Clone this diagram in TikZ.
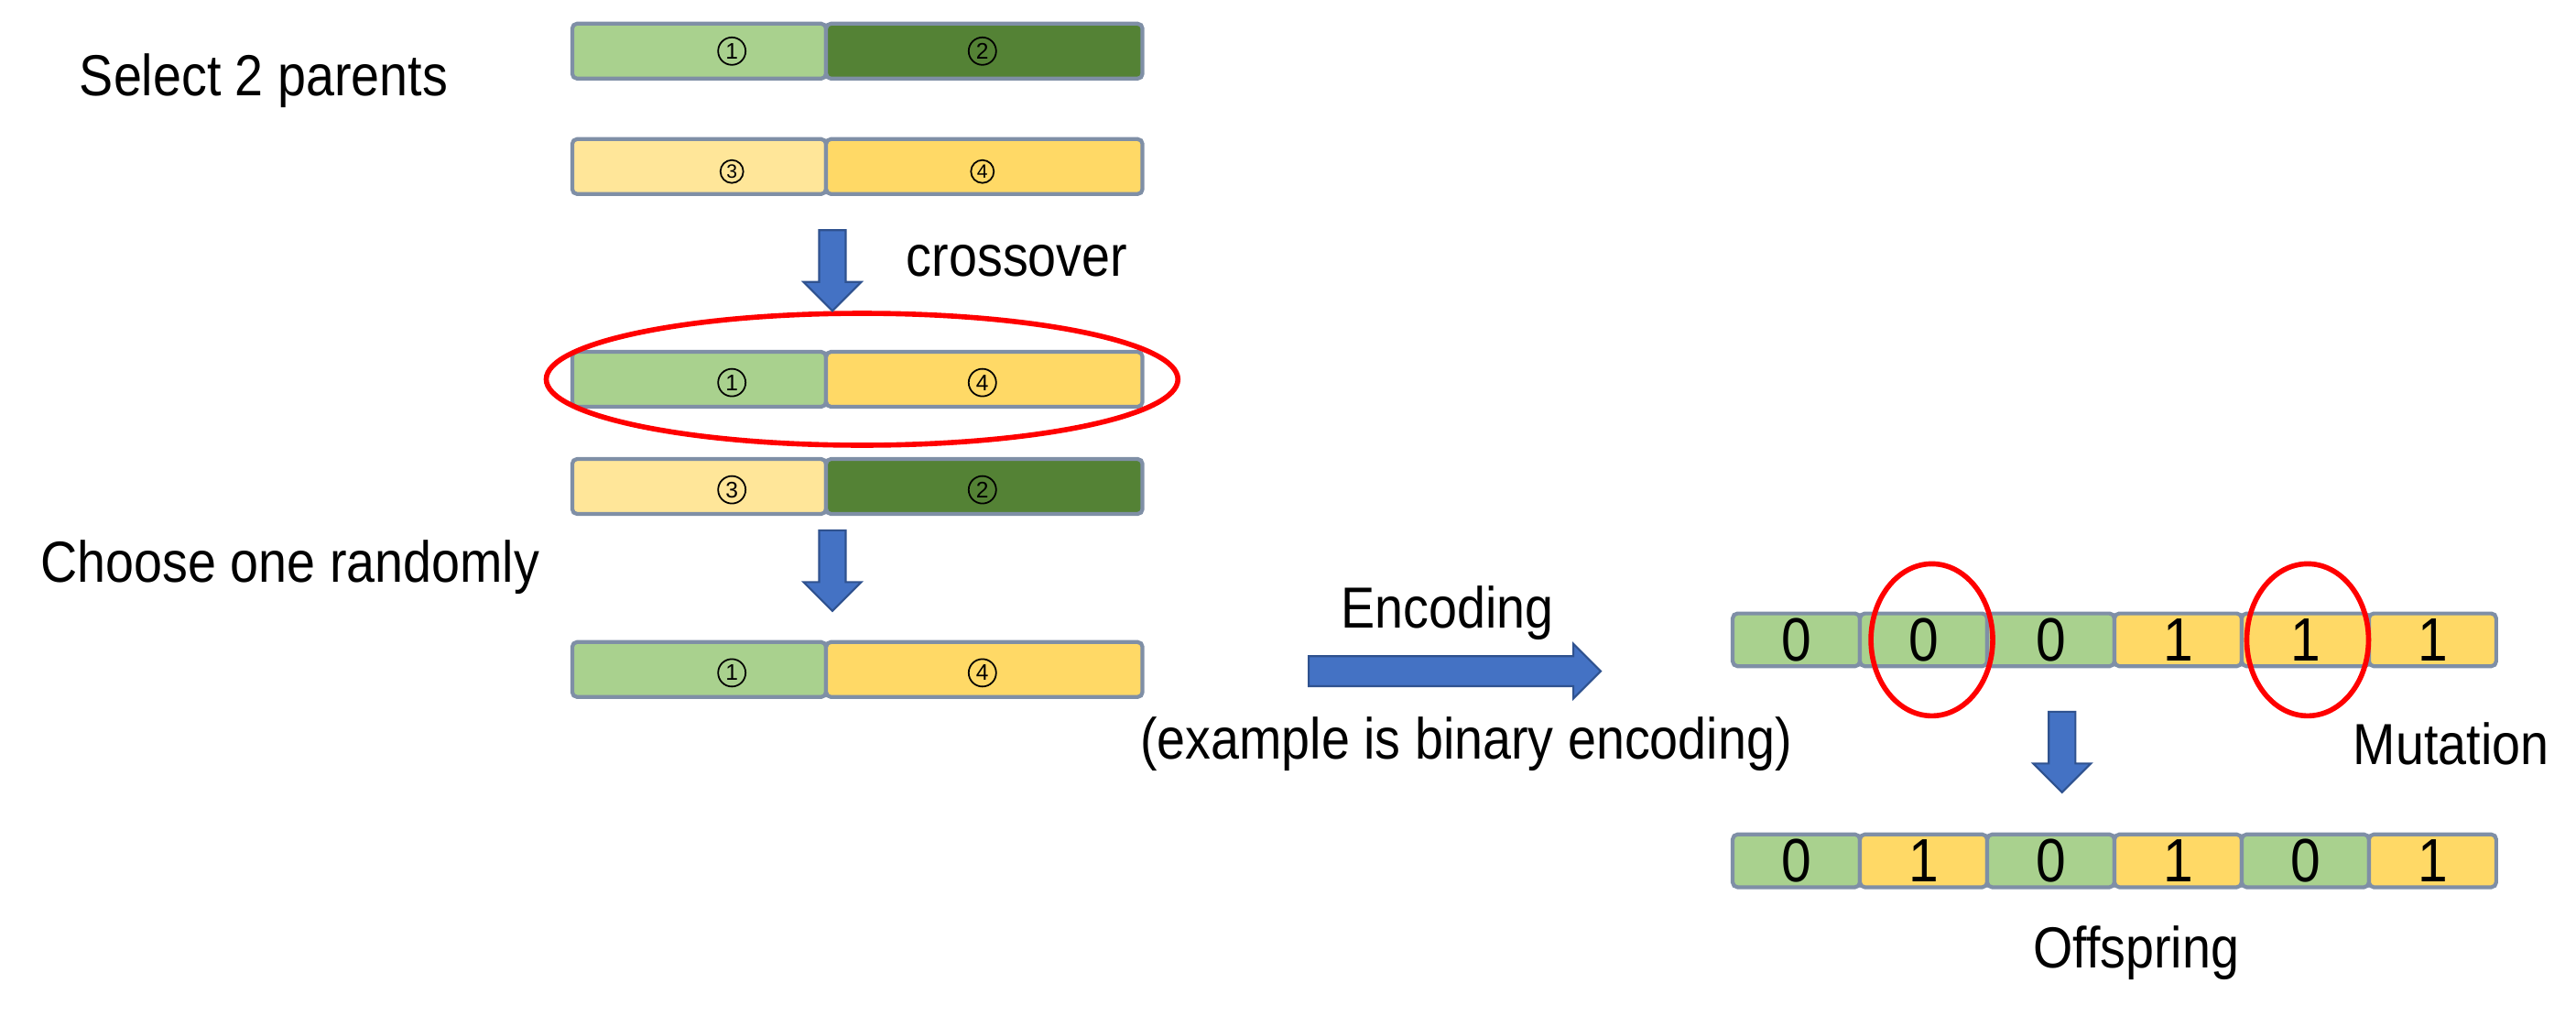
\documentclass[tikz,border=0pt]{standalone}
\usepackage{fontspec}
\usepackage{graphicx}
\setmainfont{Liberation Sans}
\usetikzlibrary{shapes.arrows,shapes.geometric}
\definecolor{lgreen}{HTML}{A9D18E}
\definecolor{dgreen}{HTML}{548235}
\definecolor{lyellow}{HTML}{FFE699}
\definecolor{myellow}{HTML}{FFD966}
\definecolor{bord}{HTML}{7F8FA6}
\definecolor{ablue}{HTML}{4472C4}
\definecolor{adark}{HTML}{2F528F}
\newcommand{\nar}[1]{\scalebox{0.88}[1]{#1}}
\tikzset{
  cell/.style={draw=bord,line width=1.2pt,rounded corners=1.5pt,minimum height=0.6cm,inner sep=0pt,anchor=west},
  lc/.style={cell,minimum width=2.772cm},
  rc/.style={cell,minimum width=3.456cm},
  bc/.style={cell,minimum width=1.39cm,minimum height=0.576cm,font=\fontsize{19}{19}\selectfont},
  cnum/.style={circle,draw,line width=0.5pt,inner sep=0.4pt,minimum size=0.3cm,font=\fontsize{7}{7}\selectfont},
  lab/.style={font=\fontsize{18}{20}\selectfont,text=black},
  barrow/.style={single arrow,draw=adark,fill=ablue,line width=0.6pt,single arrow head extend=0.17cm,inner sep=0.135cm,minimum height=0.88cm,single arrow tip angle=90},
  redmark/.style={ellipse,draw=red,line width=1.6pt,inner sep=0pt},
}
\begin{document}
\begin{tikzpicture}[x=0.018cm,y=-0.018cm]
\useasboundingbox (0,0) rectangle (1562.8,616.1);
% parent bars
\node[lc,fill=lgreen] (a1) at (346,31) {};
\node[rc,fill=dgreen] (a2) at (500,31) {};
\node[lc,fill=lyellow] (b1) at (346,101) {};
\node[rc,fill=myellow] (b2) at (500,101) {};
\node[lc,fill=lgreen] (c1) at (346,230) {};
\node[rc,fill=myellow] (c2) at (500,230) {};
\node[lc,fill=lyellow] (d1) at (346,295) {};
\node[rc,fill=dgreen] (d2) at (500,295) {};
\node[lc,fill=lgreen] (e1) at (346,406) {};
\node[rc,fill=myellow] (e2) at (500,406) {};
% circled numbers
\node[cnum] (n1) at (444,31) {1};
\node[cnum] (n2) at (596,31) {2};
\node[cnum,minimum size=0.25cm,font=\fontsize{6}{6}\selectfont] (n3) at (444,104) {3};
\node[cnum,minimum size=0.25cm,font=\fontsize{6}{6}\selectfont] (n4) at (596,104) {4};
\node[cnum] (n5) at (444,232) {1};
\node[cnum] (n6) at (596,232) {4};
\node[cnum] (n7) at (444,297) {3};
\node[cnum] (n8) at (596,297) {2};
\node[cnum] (n9) at (444,408) {1};
\node[cnum] (n10) at (596,408) {4};
% ellipse
\node[redmark,minimum width=6.9cm,minimum height=1.44cm] (el) at (523,230) {};
% arrows
\node[barrow,shape border rotate=270] (ar1) at (505,160) {};
\node[barrow,shape border rotate=270] (ar2) at (505,342) {};
\node[barrow,minimum height=3.19cm,inner sep=0.153cm,single arrow head extend=0.135cm] (ar3) at (878,407) {};
\node[barrow,shape border rotate=270] (ar4) at (1251,452) {};
% labels
\node[lab] (t1) at (160,49) {\nar{Select 2 parents}};
\node[lab] (t2) at (617,158) {\nar{crossover}};
\node[lab] (t3) at (176,344) {\nar{Choose one randomly}};
\node[lab] (t4) at (878,372) {\nar{Encoding}};
\node[lab,anchor=east] (t5) at (1094,451) {\nar{(example is binary encoding)}};
\node[lab] (t6) at (1487,451) {\nar{Mutation}};
\node[lab] (t7) at (1296,578) {\nar{Offspring}};
% encoded bar
\node[bc,fill=lgreen] (x1) at (1050,388) {\nar{0}};
\node[bc,fill=lgreen] (x2) at (1127.2,388) {\nar{0}};
\node[bc,fill=lgreen] (x3) at (1204.4,388) {\nar{0}};
\node[bc,fill=myellow] (x4) at (1281.6,388) {\nar{1}};
\node[bc,fill=myellow] (x5) at (1358.8,388) {\nar{1}};
\node[bc,fill=myellow] (x6) at (1436,388) {\nar{1}};
\node[redmark,minimum width=1.33cm,minimum height=1.66cm] (m1) at (1172,388) {};
\node[redmark,minimum width=1.33cm,minimum height=1.66cm] (m2) at (1400,388) {};
% offspring bar
\node[bc,fill=lgreen] (y1) at (1050,522) {\nar{0}};
\node[bc,fill=myellow] (y2) at (1127.2,522) {\nar{1}};
\node[bc,fill=lgreen] (y3) at (1204.4,522) {\nar{0}};
\node[bc,fill=myellow] (y4) at (1281.6,522) {\nar{1}};
\node[bc,fill=lgreen] (y5) at (1358.8,522) {\nar{0}};
\node[bc,fill=myellow] (y6) at (1436,522) {\nar{1}};
\end{tikzpicture}
\end{document}
